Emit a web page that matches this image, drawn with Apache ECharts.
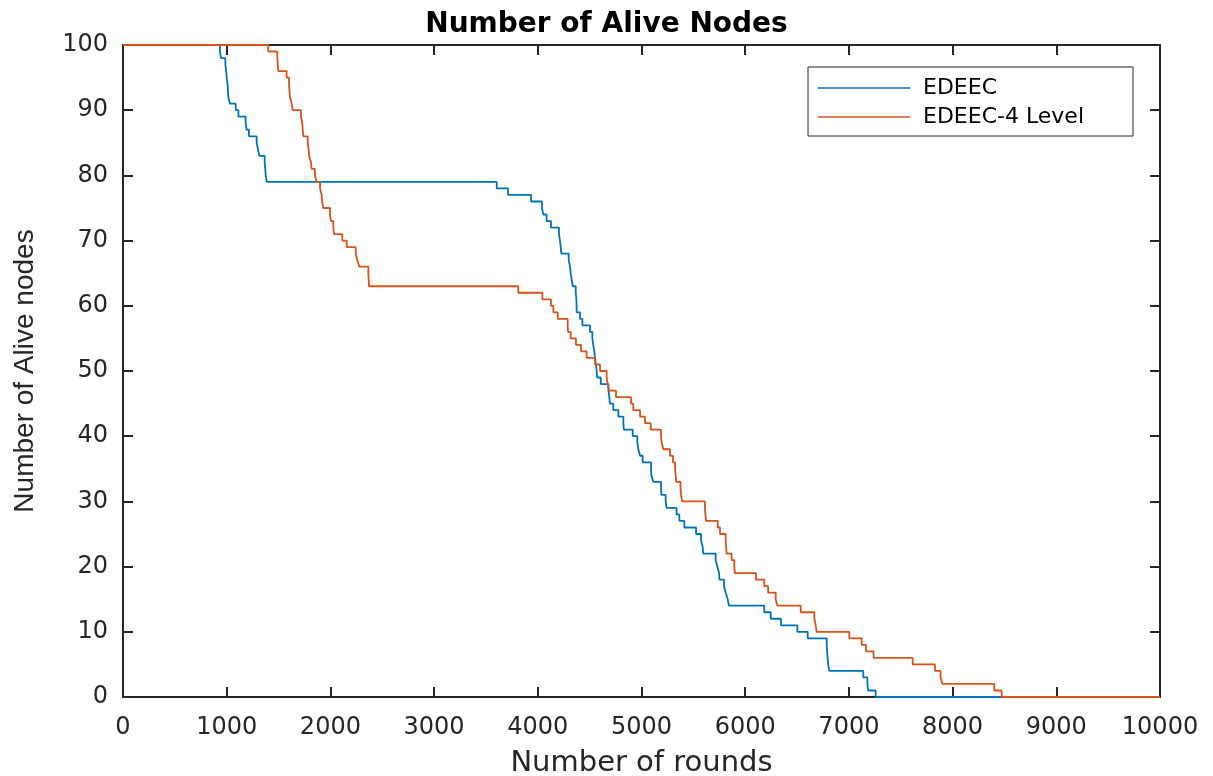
<!DOCTYPE html>
<html>
<head>
<meta charset="utf-8">
<title>Number of Alive Nodes</title>
<script src="https://cdn.jsdelivr.net/npm/echarts@6/dist/echarts.min.js"></script>
<style>
  html, body { margin: 0; padding: 0; background: #fff; }
  #chart { width: 1213px; height: 776px; }
</style>
</head>
<body>
<div id="chart"></div>
<script>
// round at which the alive count changes, and the count from that round on
var edeecRounds = [0, 935, 945, 987, 995, 1000, 1008, 1012, 1016, 1032, 1087, 1113, 1183, 1193, 1215, 1289, 1302, 1315, 1366, 1372, 1376, 1386,
    3604, 3713, 3935, 4040, 4053, 4085, 4127, 4204, 4214, 4221, 4227, 4298, 4311, 4317, 4327, 4337, 4366, 4372, 4374, 4375,
    4407, 4430, 4503, 4526, 4535, 4545, 4552, 4560, 4568, 4572, 4607, 4681, 4690, 4695, 4728, 4777, 4825, 4830, 4915,
    4960, 4970, 4986, 5011, 5092, 5095, 5114, 5188, 5192, 5233, 5242, 5338, 5365, 5413, 5526, 5574, 5590, 5595, 5715,
    5731, 5748, 5752, 5796, 5812, 5831, 5844, 6184, 6246, 6345, 6503, 6603, 6786, 6790, 6795, 6800, 6811, 7139, 7178,
    7185, 7258, 10000];
var edeecAlive = [100, 99, 98, 97, 96, 95, 94, 93, 92, 91, 90, 89, 88, 87, 86, 85, 84, 83, 82, 81, 80, 79,
    78, 77, 76, 75, 74, 73, 72, 71, 70, 69, 68, 67, 66, 65, 64, 63, 62, 61, 60, 59,
    58, 57, 56, 55, 54, 53, 52, 51, 50, 49, 48, 47, 46, 45, 44, 43, 42, 41, 40,
    39, 38, 37, 36, 35, 34, 33, 32, 31, 30, 29, 28, 27, 26, 25, 24, 23, 22, 21,
    20, 19, 18, 17, 16, 15, 14, 13, 12, 11, 10, 9, 8, 7, 6, 5, 4, 3, 2,
    1, 0, 0];

var levelRounds = [0, 1401, 1488, 1492, 1498, 1578, 1601, 1605, 1610, 1627, 1636, 1716, 1729, 1733, 1739, 1781, 1790, 1794, 1813, 1819,
    1851, 1868, 1900, 1916, 1920, 1932, 1996, 2005, 2028, 2035, 2115, 2157, 2244, 2260, 2279, 2366, 2369, 2372,
    3812, 4044, 4127, 4150, 4192, 4288, 4292, 4317, 4368, 4417, 4471, 4552, 4600, 4664, 4674, 4687, 4754, 4899,
    4921, 4986, 5034, 5089, 5188, 5195, 5211, 5275, 5303, 5323, 5330, 5334, 5376, 5381, 5392, 5612, 5616, 5622,
    5735, 5757, 5812, 5816, 5821, 5869, 5895, 5901, 6104, 6184, 6221, 6294, 6310, 6535, 6667, 6680, 6689, 7004,
    7123, 7165, 7238, 7615, 7830, 7884, 7900, 8402, 8473, 10000];
var levelAlive = [100, 99, 98, 97, 96, 95, 94, 93, 92, 91, 90, 89, 88, 87, 86, 85, 84, 83, 82, 81,
    80, 79, 78, 77, 76, 75, 74, 73, 72, 71, 70, 69, 68, 67, 66, 65, 64, 63,
    62, 61, 60, 59, 58, 57, 56, 55, 54, 53, 52, 51, 50, 49, 48, 47, 46, 45,
    44, 43, 42, 41, 40, 39, 38, 37, 36, 35, 34, 33, 32, 31, 30, 29, 28, 27,
    26, 25, 24, 23, 22, 21, 20, 19, 18, 17, 16, 15, 14, 13, 12, 11, 10, 9,
    8, 7, 6, 5, 4, 3, 2, 1, 0, 0];

var seriesNames = ['EDEEC', 'EDEEC-4 Level'];

function pairs(xs, ys) {
    var out = [];
    for (var i = 0; i < xs.length; i++) out.push([xs[i], ys[i]]);
    return out;
}

var axisColor = '#262626';
var tickFont = { color: axisColor, fontFamily: 'DejaVu Sans', fontSize: 24 };

function boxAxis(extra) {
    // MATLAB style: line + inward ticks, never moved onto zero
    var a = {
        type: 'value',
        axisLine: { show: true, onZero: false, lineStyle: { color: axisColor, width: 2 } },
        axisTick: { show: true, inside: true, length: 10, lineStyle: { color: axisColor, width: 2 } },
        splitLine: { show: false }
    };
    return Object.assign(a, extra);
}

var myChart = echarts.init(document.getElementById('chart'));
var option = {
    backgroundColor: '#fff',
    animation: false,
    title: {
        text: 'Number of Alive Nodes',
        left: 'center',
        top: 6,
        textStyle: { fontFamily: 'DejaVu Sans', fontWeight: 'bold', fontSize: 28, color: '#000' }
    },
    legend: {
        data: seriesNames,
        orient: 'vertical',
        left: 808,
        top: 67,
        padding: [10, 49, 8, 10],
        icon: 'rect',
        itemWidth: 92,
        itemHeight: 1.5,
        itemGap: 7,
        backgroundColor: '#fff',
        borderColor: axisColor,
        borderWidth: 1,
        borderRadius: 0,
        textStyle: { fontFamily: 'DejaVu Sans', fontSize: 22, lineHeight: 22, color: '#000', padding: [0, 0, 0, 8] }
    },
    grid: { left: 123, right: 53, top: 45, bottom: 79, outerBoundsMode: 'none' },
    xAxis: [boxAxis({
        min: 0, max: 10000, interval: 1000,
        name: 'Number of rounds',
        nameLocation: 'middle',
        nameGap: 52,
        nameTextStyle: { fontFamily: 'DejaVu Sans', fontSize: 29, color: axisColor },
        axisLabel: Object.assign({ margin: 19, formatter: function (v) { return String(v); } }, tickFont)
    }), boxAxis({
        position: 'top',
        min: 0, max: 10000, interval: 1000,
        axisLabel: { show: false }
    })],
    yAxis: [boxAxis({
        min: 0, max: 100, interval: 10,
        name: 'Number of Alive nodes',
        nameLocation: 'middle',
        nameGap: 84,
        nameTextStyle: { fontFamily: 'Liberation Sans', fontSize: 28, color: axisColor },
        axisLabel: Object.assign({ margin: 15 }, tickFont)
    }), boxAxis({
        position: 'right',
        min: 0, max: 100, interval: 10,
        axisLabel: { show: false }
    })],
    series: [{
        name: seriesNames[0],
        type: 'line',
        step: 'end',
        symbol: 'none',
        color: '#0072BD',
        lineStyle: { width: 1.8 },
        data: pairs(edeecRounds, edeecAlive)
    }, {
        name: seriesNames[1],
        type: 'line',
        step: 'end',
        symbol: 'none',
        color: '#D95319',
        lineStyle: { width: 1.8 },
        data: pairs(levelRounds, levelAlive)
    }]
};
myChart.setOption(option);
</script>
</body>
</html>
